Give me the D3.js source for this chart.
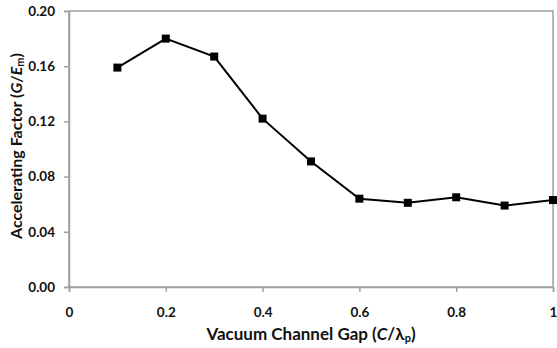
<!DOCTYPE html>
<html>
<head>
<meta charset="utf-8">
<script src="https://cdn.jsdelivr.net/npm/d3@7"></script>
<style>
  html, body { margin: 0; padding: 0; background: #fff; }
  svg { display: block; }
  text { font-family: Lato, "Open Sans", sans-serif; font-weight: 700; fill: #111; }
</style>
</head>
<body>
<svg id="chart" width="557" height="348"></svg>
<script>
// Accelerating factor versus vacuum channel gap
const gap = [0.1, 0.2, 0.3, 0.4, 0.5, 0.6, 0.7, 0.8, 0.9, 1.0];
const factor = [0.159, 0.180, 0.167, 0.122, 0.091, 0.064, 0.061, 0.065, 0.059, 0.063];
const xTicks = [0, 0.2, 0.4, 0.6, 0.8, 1];
const yTicks = [0, 0.04, 0.08, 0.12, 0.16, 0.20];

const svg = d3.select("#chart");
const margin = { left: 69, right: 4, top: 11, bottom: 61 };
const W = 557, H = 348;

const x = d3.scaleLinear().domain([0, 1]).range([margin.left, W - margin.right]);
const y = d3.scaleLinear().domain([0, 0.2]).range([H - margin.bottom, margin.top]);

const axisColor = "#a0a0a0";

// frame around the plot area
svg.append("rect")
  .attr("x", x(0)).attr("y", y(0.2))
  .attr("width", x(1) - x(0)).attr("height", y(0) - y(0.2))
  .attr("fill", "none").attr("stroke", axisColor).attr("stroke-width", 1.5);

// x axis
const xAxis = svg.append("g")
  .attr("transform", `translate(0,${y(0)})`)
  .call(d3.axisBottom(x).tickValues(xTicks).tickSize(5).tickPadding(15)
    .tickFormat(d => d === 0 ? "0" : d === 1 ? "1" : d3.format(".1f")(d)));
xAxis.select(".domain").attr("stroke", axisColor).attr("stroke-width", 1.5);
xAxis.selectAll(".tick line").attr("stroke", axisColor).attr("stroke-width", 1.5);
xAxis.selectAll(".tick text").style("font-size", "13.5px").attr("fill", "#111");

// y axis
const yAxis = svg.append("g")
  .attr("transform", `translate(${x(0)},0)`)
  .call(d3.axisLeft(y).tickValues(yTicks).tickSize(5).tickPadding(9)
    .tickFormat(d3.format(".2f")));
yAxis.select(".domain").attr("stroke", axisColor).attr("stroke-width", 1.5);
yAxis.selectAll(".tick line").attr("stroke", axisColor).attr("stroke-width", 1.5);
yAxis.selectAll(".tick text").style("font-size", "13.5px").attr("fill", "#111");

const pts = gap.map((g, i) => [g, factor[i]]);

// data line
svg.append("path")
  .datum(pts)
  .attr("fill", "none")
  .attr("stroke", "#000")
  .attr("stroke-width", 2)
  .attr("d", d3.line().x(d => x(d[0])).y(d => y(d[1])));

// square markers
const ms = 8;
svg.selectAll("rect.marker")
  .data(pts)
  .enter().append("rect")
  .attr("class", "marker")
  .attr("x", d => x(d[0]) - ms / 2)
  .attr("y", d => y(d[1]) - ms / 2)
  .attr("width", ms).attr("height", ms)
  .attr("fill", "#000");

// x axis title
const xt = svg.append("text")
  .attr("x", 311).attr("y", 340)
  .attr("text-anchor", "middle")
  .style("font-size", "17px");
xt.append("tspan").text("Vacuum Channel Gap (");
xt.append("tspan").style("font-style", "italic").text("C");
xt.append("tspan").text("/λ");
xt.append("tspan").style("font-size", "11px").attr("dy", 2).text("p");
xt.append("tspan").attr("dy", -2).text(")");

// y axis title
const yt = svg.append("text")
  .attr("transform", "translate(22,146) rotate(-90)")
  .attr("text-anchor", "middle")
  .style("font-size", "16px");
yt.append("tspan").text("Accelerating Factor (");
yt.append("tspan").style("font-style", "italic").text("G");
yt.append("tspan").text("/");
yt.append("tspan").style("font-style", "italic").text("E");
yt.append("tspan").style("font-size", "11px").attr("dy", 2).text("m");
yt.append("tspan").attr("dy", -2).text(")");
</script>
</body>
</html>
